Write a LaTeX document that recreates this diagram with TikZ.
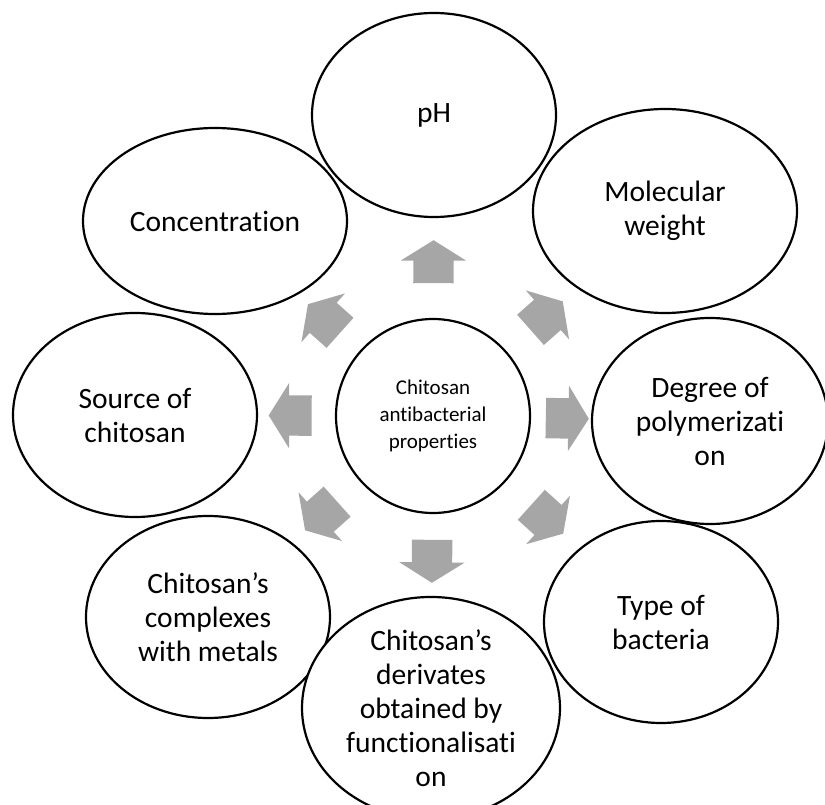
\documentclass[tikz,border=0pt]{standalone}
\usepackage{fontspec}
\setmainfont{Carlito}[Ligatures=NoCommon]
\usetikzlibrary{shapes.geometric}
\usetikzlibrary{shapes.arrows}

\definecolor{arrowgray}{RGB}{166,166,166}

\tikzset{
  factor/.style={ellipse,draw,line width=2.2pt,fill=white,inner sep=0pt,align=center,
                 font=\fontsize{29.5}{34}\selectfont},
  hub/.style={circle,draw,line width=2.2pt,fill=white,inner sep=0pt,minimum size=194pt,
              align=center,font=\fontsize{21}{27}\selectfont},
  blockarrow/.style={single arrow,fill=arrowgray,draw=none,inner xsep=0pt,inner ysep=20pt,
                     minimum height=43pt,minimum width=65pt,single arrow head extend=12.5pt,
                     single arrow tip angle=116,sloped,allow upside down}
}

\begin{document}
\begin{tikzpicture}[x=1pt,y=-1pt]

            % \draw [help lines] (0,0) grid[step=50] (825,805);
            \useasboundingbox (0,0) rectangle (825,805);

            \path   (433,416) node (hub) [hub] {Chitosan\\antibacterial\\properties}
                    (215,221) node (cc) [factor,minimum width=264pt,minimum height=186pt] {Concentration}
                    (434,115) node (ph) [factor,minimum width=244pt,minimum height=204pt] {pH}
                    (665,211) node (mw) [factor,minimum width=264pt,minimum height=204pt] {Molecular\\weight}
                    (710,421) node (dp) [factor,minimum width=236pt,minimum height=206pt] {Degree of\\polymerizati\\on}
                    (661,622) node (tb) [factor,minimum width=234pt,minimum height=202pt] {Type of\\bacteria}
                    (135,415) node (sc) [factor,minimum width=244pt,minimum height=204pt] {Source of\\chitosan}
                    (208,617) node (cm) [factor,minimum width=244pt,minimum height=202pt] {Chitosan’s\\complexes\\with metals}
                    (431,708) node (fd) [factor,minimum width=258pt,minimum height=202pt] {Chitosan’s\\derivates\\obtained by\\functionalisati\\on};

            \path (node cs: name =hub) -- node[blockarrow] {} (node cs:name =ph);
            \path (node cs: name =hub) -- node[blockarrow] {} (node cs:name =mw);
            \path (node cs: name =hub) -- node[blockarrow] {} (node cs:name =dp);
            \path (node cs: name =hub) -- node[blockarrow] {} (node cs:name =tb);
            \path (node cs: name =hub) -- node[blockarrow] {} (node cs:name =fd);
            \path (node cs: name =hub) -- node[blockarrow] {} (node cs:name =cm);
            \path (node cs: name =hub) -- node[blockarrow] {} (node cs:name =sc);
            \path (node cs: name =hub) -- node[blockarrow] {} (node cs:name =cc);

\end{tikzpicture}
\end{document}
